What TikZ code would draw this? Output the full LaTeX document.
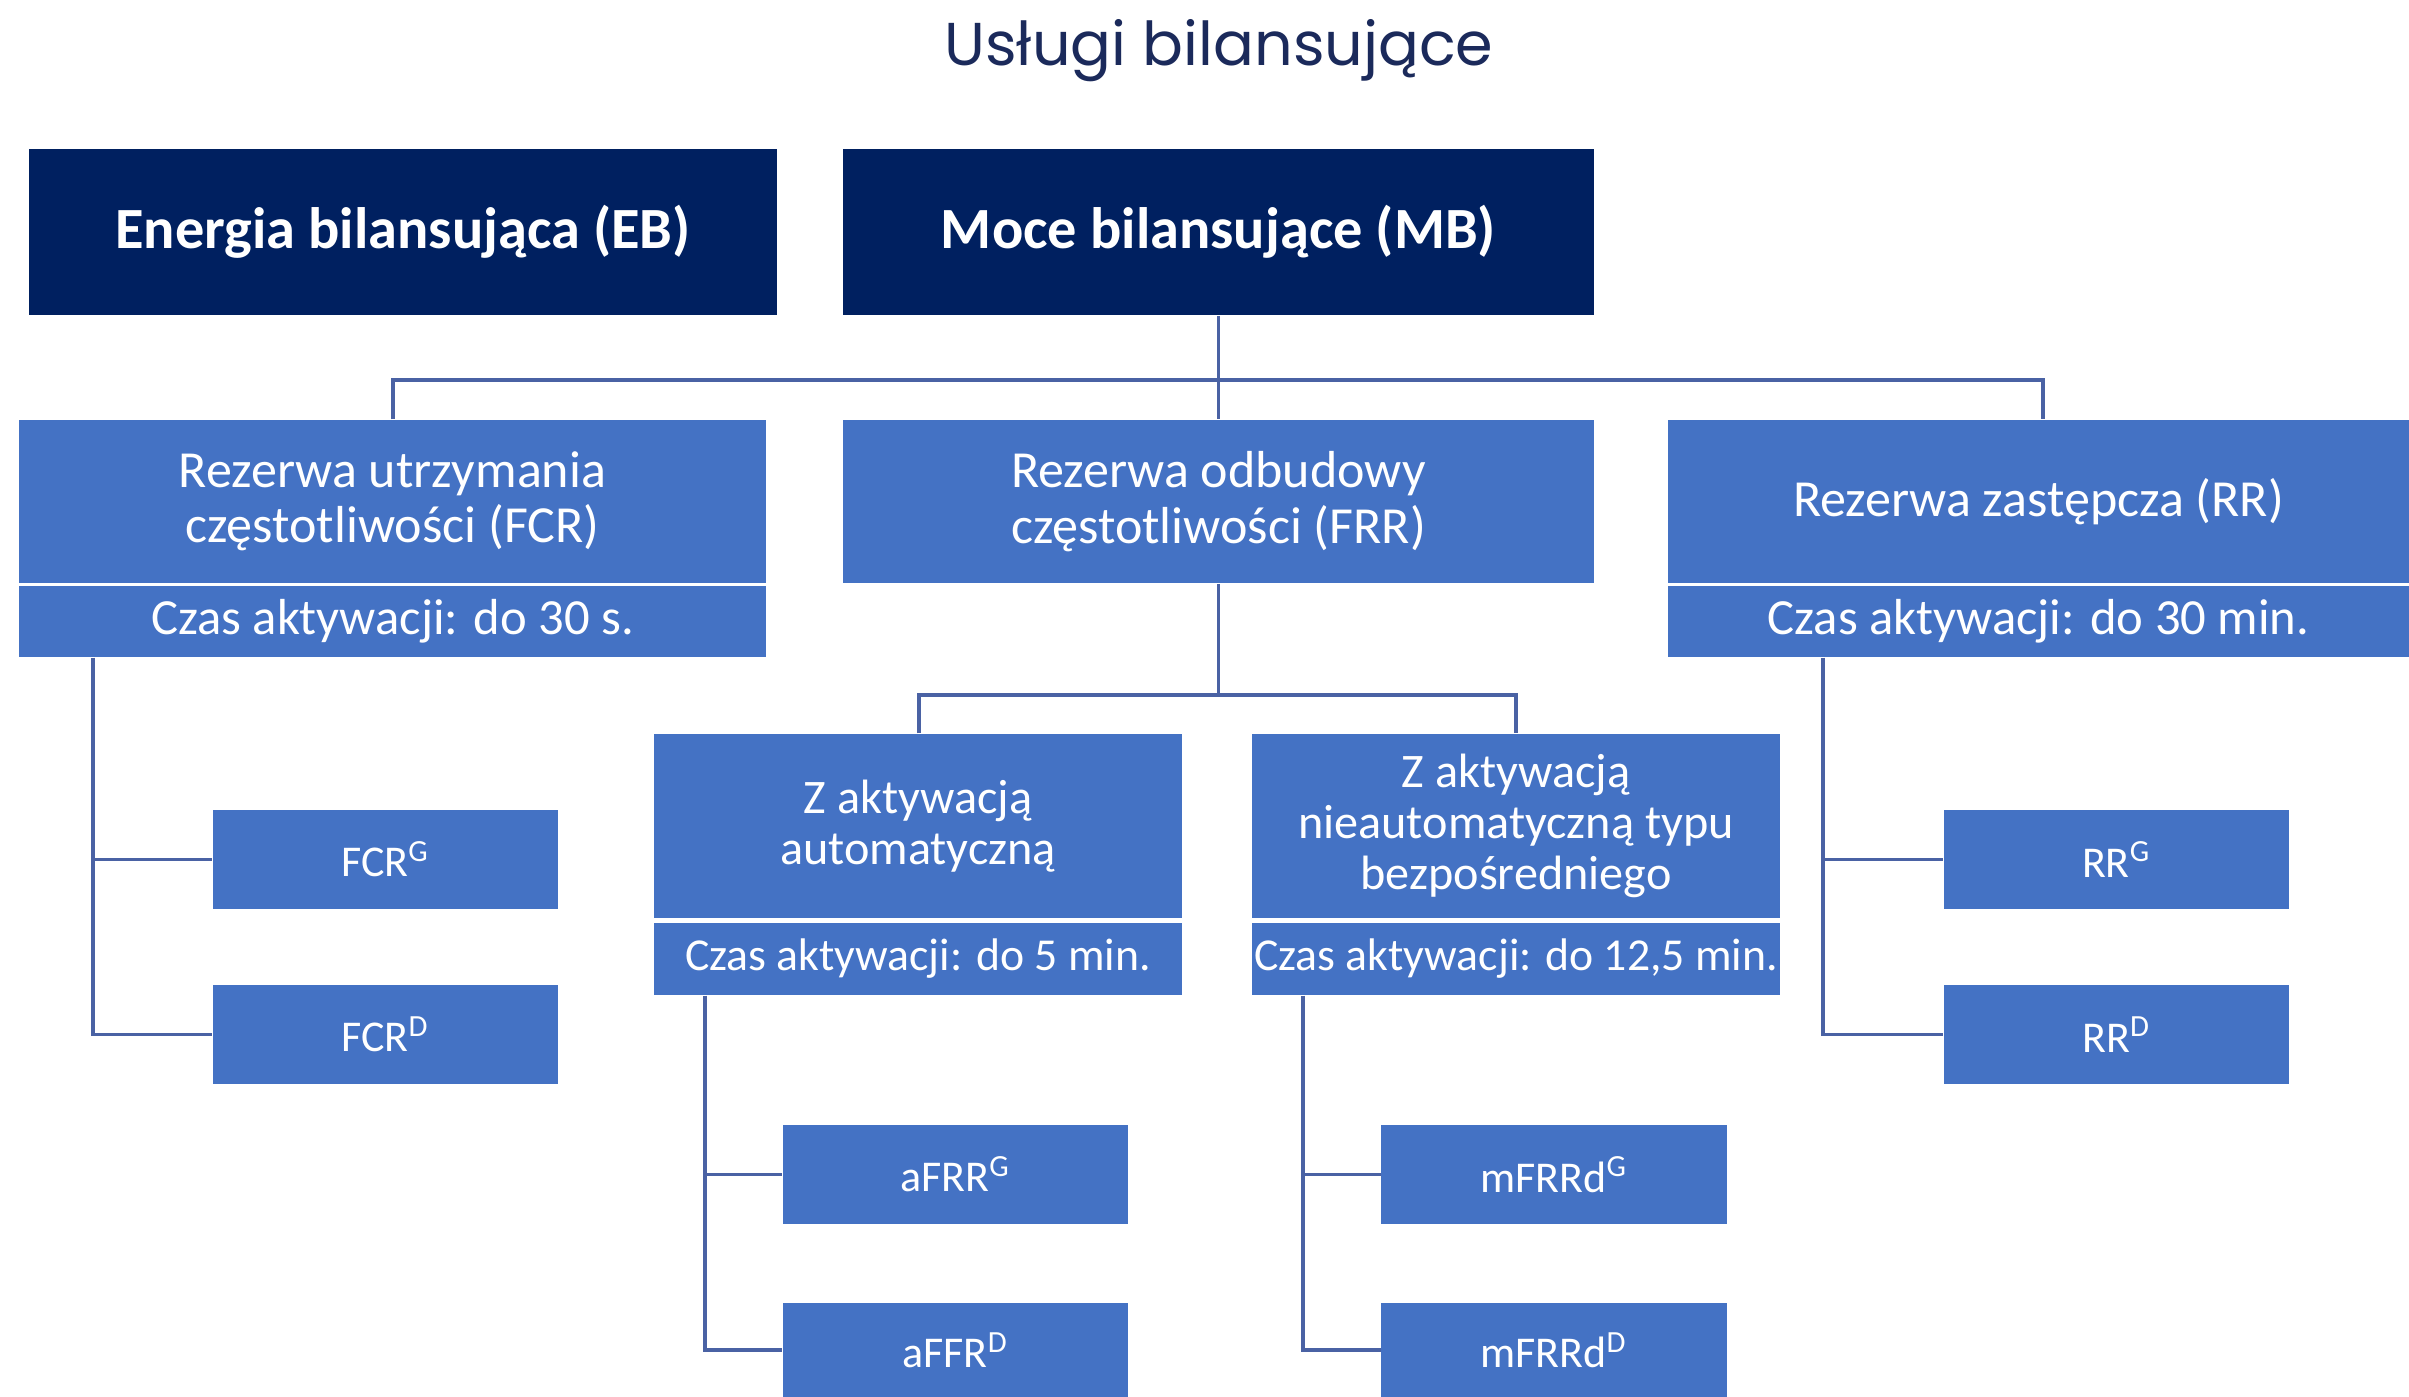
\documentclass[tikz,border=0pt]{standalone}
\usepackage{fontspec}
\setmainfont{Carlito}
\newfontfamily\titlefont{Poppins}
\definecolor{navy}{HTML}{002060}
\definecolor{mblue}{HTML}{4472C4}
\definecolor{lineblue}{HTML}{4A62A4}
\definecolor{titlecol}{HTML}{1B2A5B}
\begin{document}
\begin{tikzpicture}[x=0.01cm,y=-0.01cm,
  dark/.style={fill=navy,text=white,inner sep=0pt,font=\fontsize{16.6}{19}\selectfont\bfseries,align=center},
  blk/.style={fill=mblue,text=white,inner sep=0pt,align=center},
  big/.style={blk,font=\fontsize{14.8}{15.8}\selectfont},
  czas/.style={blk,font=\fontsize{14.4}{16}\selectfont},
  mid/.style={blk,font=\fontsize{13.7}{14.6}\selectfont},
  czass/.style={blk,font=\fontsize{13}{15}\selectfont},
  leaf/.style={blk,minimum width=3.45cm,minimum height=0.99cm,font=\fontsize{12.5}{15}\selectfont},
  conn/.style={draw=lineblue,line width=1pt}]
\useasboundingbox (0,0) rectangle (2409,1397);
\node[text=titlecol,font=\titlefont\fontsize{17.2}{20}\selectfont,anchor=base] (title) at (1219,66) {Usługi bilansujące};
% top row
\node[dark,minimum width=7.48cm,minimum height=1.66cm] (eb) at (403,232) {Energia bilansująca (EB)};
\node[dark,minimum width=7.51cm,minimum height=1.66cm] (mb) at (1218.5,232) {Moce bilansujące (MB)};
% second row
\node[big,minimum width=7.47cm,minimum height=1.63cm] (fcr) at (392.5,501.5) {Rezerwa utrzymania\\częstotliwości (FCR)};
\node[czas,minimum width=7.47cm,minimum height=0.71cm] (fcrt) at (392.5,621.5) {Czas aktywacji: do 30 s.};
\node[big,minimum width=7.51cm,minimum height=1.63cm] (frr) at (1218.5,501.5) {Rezerwa odbudowy\\częstotliwości (FRR)};
\node[big,minimum width=7.41cm,minimum height=1.63cm] (rr) at (2038.5,501.5) {Rezerwa zastępcza (RR)};
\node[czas,minimum width=7.41cm,minimum height=0.71cm] (rrt) at (2038.5,621.5) {Czas aktywacji: do 30 min.};
% FRR children
\node[mid,minimum width=5.28cm,minimum height=1.84cm] (za) at (918,826) {Z aktywacją\\automatyczną};
\node[czass,minimum width=5.28cm,minimum height=0.72cm] (zat) at (918,959) {Czas aktywacji: do 5 min.};
\node[mid,minimum width=5.28cm,minimum height=1.84cm] (zn) at (1516,826) {Z aktywacją\\nieautomatyczną typu\\bezpośredniego};
\node[czass,minimum width=5.28cm,minimum height=0.72cm] (znt) at (1516,959) {Czas aktywacji: do 12,5 min.};
% leaves
\node[leaf] (fcrg) at (385.5,859.5) {FCR\textsuperscript{G}};
\node[leaf] (fcrd) at (385.5,1034.5) {FCR\textsuperscript{D}};
\node[leaf] (rrg) at (2116.5,859.5) {RR\textsuperscript{G}};
\node[leaf] (rrd) at (2116.5,1034.5) {RR\textsuperscript{D}};
\node[leaf] (afg) at (955.5,1174.5) {aFRR\textsuperscript{G}};
\node[leaf,minimum height=0.94cm] (afd) at (955.5,1350) {aFFR\textsuperscript{D}};
\node[leaf] (mfg) at (1554,1174.5) {mFRRd\textsuperscript{G}};
\node[leaf,minimum height=0.94cm] (mfd) at (1554,1350) {mFRRd\textsuperscript{D}};
% connectors
\coordinate (hl) at (393,380);
\coordinate (hr) at (2043,380);
\draw[conn] (mb.south) -- (frr.north);
\draw[conn] (hl |- fcr.north) -- (hl) -- (hr) -- (hr |- rr.north);
\coordinate (fl) at (919,695);
\coordinate (fr) at (1516,695);
\draw[conn] (frr.south) -- (frr.south |- fl);
\draw[conn] (fl |- za.north) -- (fl) -- (fr) -- (fr |- zn.north);
\coordinate (fcrx) at (93,0);
\draw[conn] (fcrx |- fcrt.south) |- (fcrd.west);
\draw[conn] (fcrx |- fcrg.west) -- (fcrg.west);
\coordinate (rrx) at (1823,0);
\draw[conn] (rrx |- rrt.south) |- (rrd.west);
\draw[conn] (rrx |- rrg.west) -- (rrg.west);
\coordinate (ax) at (705,0);
\draw[conn] (ax |- zat.south) |- (afd.west);
\draw[conn] (ax |- afg.west) -- (afg.west);
\coordinate (mx) at (1303,0);
\draw[conn] (mx |- znt.south) |- (mfd.west);
\draw[conn] (mx |- mfg.west) -- (mfg.west);
\end{tikzpicture}
\end{document}
